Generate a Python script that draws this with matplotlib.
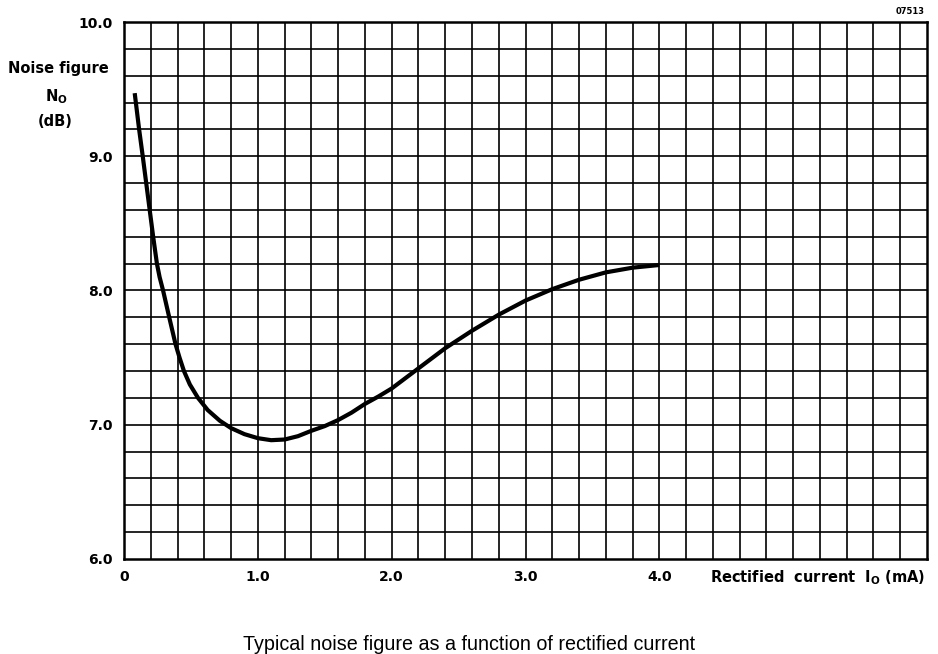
import matplotlib
matplotlib.use("Agg")
import matplotlib.pyplot as plt
import numpy as np

# Data
current_ma = [0.08, 0.113, 0.140, 0.166, 0.192, 0.218, 0.246, 0.266, 0.292, 0.338,
              0.385, 0.415, 0.448, 0.492, 0.553, 0.625, 0.716, 0.80, 0.90, 1.00,
              1.10, 1.20, 1.30, 1.40, 1.50, 1.60, 1.70, 1.80, 1.90, 2.00,
              2.20, 2.40, 2.60, 2.80, 3.00, 3.20, 3.40, 3.60, 3.80, 4.00]
noise_db = [9.47, 9.20, 9.00, 8.80, 8.60, 8.40, 8.20, 8.10, 8.00, 7.80,
            7.60, 7.50, 7.40, 7.30, 7.20, 7.11, 7.03, 6.975, 6.93, 6.90,
            6.885, 6.89, 6.915, 6.955, 6.99, 7.035, 7.09, 7.155, 7.21, 7.27,
            7.42, 7.57, 7.70, 7.82, 7.925, 8.01, 8.08, 8.135, 8.17, 8.19]
x_ticks = [0, 1.0, 2.0, 3.0, 4.0]
x_tick_labels = ["0", "1.0", "2.0", "3.0", "4.0"]
y_ticks = [6.0, 7.0, 8.0, 9.0, 10.0]
y_tick_labels = ["6.0", "7.0", "8.0", "9.0", "10.0"]

fig = plt.figure(figsize=(9.38, 6.54), dpi=100)
ax = fig.add_axes([124/938, 1 - 559/654, (927-124)/938, (559-22)/654])
ax.set_xlim(0, 6.0)
ax.set_ylim(6.0, 10.0)

# grid every 0.2
for gx in np.arange(0.2, 5.99, 0.2):
    ax.axvline(gx, color="black", lw=1.2, zorder=1)
for gy in np.arange(6.2, 9.99, 0.2):
    ax.axhline(gy, color="black", lw=1.2, zorder=1)
for s in ax.spines.values():
    s.set_linewidth(1.8)

ax.plot(current_ma, noise_db, color="black", lw=3.0, solid_capstyle="butt",
        solid_joinstyle="round", zorder=3)

ax.set_xticks(x_ticks)
ax.set_xticklabels(x_tick_labels, fontsize=10, fontweight="bold")
ax.set_yticks(y_ticks)
ax.set_yticklabels(y_tick_labels, fontsize=10, fontweight="bold")
ax.tick_params(length=0, pad=8)

fs = 10.5
fig.text(58/938, 1 - 69/654, "Noise figure", ha="center", va="center", fontsize=fs, fontweight="bold")
fig.text(56/938, 1 - 97/654, r"N$_\mathregular{O}$", ha="center", va="center", fontsize=fs, fontweight="bold")
fig.text(55/938, 1 - 121/654, "(dB)", ha="center", va="center", fontsize=fs, fontweight="bold")
fig.text(925/938, 1 - 578/654, r"Rectified  current  I$_\mathregular{O}$ (mA)", ha="right", va="center",
         fontsize=fs, fontweight="bold")
fig.text(925/938, 1 - 12/654, "07513", ha="right", va="center", fontsize=6, fontweight="bold")
fig.text(469/938, 1 - 645/654, "Typical noise figure as a function of rectified current",
         ha="center", va="center", fontsize=14.2, family="Liberation Sans")

fig.savefig("out.png", dpi=100, facecolor="white")
